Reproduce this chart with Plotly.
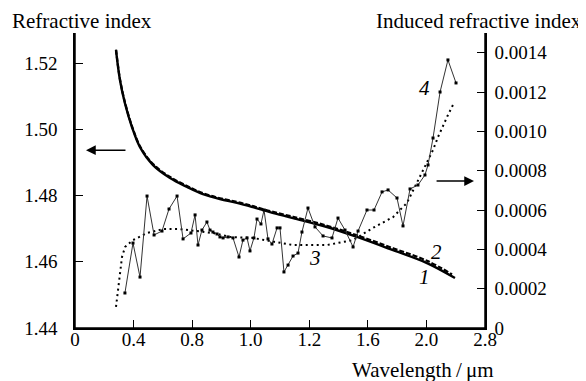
import plotly.graph_objects as go

# ---- data ----
# x axis drawn linearly, tick positions every 0.4 with the printed labels
x_tickvals = [0, 0.4, 0.8, 1.2, 1.6, 2.0, 2.4, 2.8]
x_ticktext = ["0", "0.4", "0.8", "1.0", "1.2", "1.6", "2.0", "2.8"]

y_left_ticks = [1.44, 1.46, 1.48, 1.50, 1.52]
y_left_text = ["1.44", "1.46", "1.48", "1.50", "1.52"]
y_right_ticks = [0, 0.0002, 0.0004, 0.0006, 0.0008, 0.0010, 0.0012, 0.0014]
y_right_text = ["0", "0.0002", "0.0004", "0.0006", "0.0008", "0.0010", "0.0012", "0.0014"]

# curve 1 (solid) refractive index
c1_x = [0.28, 0.307, 0.341, 0.389, 0.444, 0.533, 0.649, 0.765, 0.874, 0.990,
        1.106, 1.216, 1.332, 1.489, 1.721, 1.926, 2.172, 2.404, 2.595]
c1_y = [1.5239, 1.5149, 1.5079, 1.5007, 1.4946, 1.4892, 1.4853, 1.4826, 1.4804, 1.4789,
        1.4778, 1.4765, 1.4750, 1.4732, 1.4705, 1.4675, 1.4635, 1.4596, 1.4551]

# curve 2 (dashed) refractive index
c2_x = [0.28, 0.307, 0.341, 0.389, 0.444, 0.533, 0.649, 0.765, 0.874, 0.990,
        1.106, 1.216, 1.332, 1.489, 1.721, 1.926, 2.172, 2.404, 2.575]
c2_y = [1.5241, 1.5152, 1.5082, 1.5010, 1.4949, 1.4895, 1.4856, 1.4829, 1.4807, 1.4792,
        1.4781, 1.4768, 1.4753, 1.4736, 1.4709, 1.4680, 1.4641, 1.4603, 1.4562]

# curve 3 (dotted) induced refractive index
c3_x = [0.28, 0.300, 0.321, 0.342, 0.396, 0.492, 0.601, 0.717, 0.833, 0.942,
        1.058, 1.216, 1.332, 1.489, 1.721, 1.899, 2.035, 2.172, 2.267, 2.377,
        2.411, 2.445, 2.479, 2.513, 2.547, 2.581]
c3_y = [0.000107, 0.000229, 0.000361, 0.000412, 0.000447, 0.000483, 0.000503, 0.000503,
        0.000493, 0.000483, 0.000463, 0.000458, 0.000442, 0.000422, 0.000422, 0.000447,
        0.000509, 0.000564, 0.000636, 0.000798, 0.000854, 0.000905, 0.000971, 0.001032,
        0.001083, 0.001134]

# curve 4 (measured, noisy) induced refractive index
c4_x = [0.341, 0.396, 0.444, 0.492, 0.540, 0.594, 0.642, 0.697, 0.738, 0.792,
        0.820, 0.840, 0.867, 0.901, 0.922, 0.942, 0.970, 0.990, 1.011, 1.045,
        1.079, 1.120, 1.147, 1.175, 1.195, 1.222, 1.243, 1.270, 1.291, 1.318,
        1.345, 1.380, 1.400, 1.427, 1.455, 1.489, 1.523, 1.550, 1.591, 1.639,
        1.694, 1.755, 1.796, 1.844, 1.899, 1.933, 1.994, 2.042, 2.097, 2.138,
        2.199, 2.240, 2.288, 2.342, 2.390, 2.411, 2.445, 2.493, 2.547, 2.602]
c4_y = [0.000178, 0.000432, 0.000259, 0.000671, 0.000473, 0.000493, 0.000605, 0.000671,
        0.000453, 0.000483, 0.000575, 0.000422, 0.000498, 0.000539, 0.000498, 0.000488,
        0.000478, 0.000463, 0.000458, 0.000463, 0.000458, 0.000361, 0.000447, 0.000458,
        0.000392, 0.000458, 0.000554, 0.000529, 0.000600, 0.000453, 0.000427, 0.000509,
        0.000509, 0.000285, 0.000320, 0.000366, 0.000381, 0.000488, 0.000610, 0.000514,
        0.000468, 0.000458, 0.000559, 0.000498, 0.000412, 0.000493, 0.000600, 0.000600,
        0.000692, 0.000702, 0.000661, 0.000519, 0.000707, 0.000727, 0.000778, 0.000829,
        0.000966, 0.001200, 0.001363, 0.001246]

FONT = "Liberation Serif"
TICK_SIZE = 19
TITLE_SIZE = 21

fig = go.Figure()
fig.add_trace(go.Scatter(x=c3_x, y=c3_y, yaxis="y2", mode="lines",
                         line=dict(color="black", width=2, dash="2px,3.5px"),
                         showlegend=False))
fig.add_trace(go.Scatter(x=c4_x, y=c4_y, yaxis="y2", mode="lines+markers",
                         line=dict(color="#333", width=1),
                         marker=dict(symbol="square", size=3, color="black"),
                         showlegend=False))
fig.add_trace(go.Scatter(x=c2_x, y=c2_y, mode="lines", line_shape="spline",
                         line=dict(color="black", width=2.2, dash="5px,2px"),
                         showlegend=False))
fig.add_trace(go.Scatter(x=c1_x, y=c1_y, mode="lines", line_shape="spline",
                         line=dict(color="black", width=2.4),
                         showlegend=False))

axis_common = dict(showgrid=False, zeroline=False, showline=True, linecolor="black",
                   linewidth=1.5, ticks="inside", ticklen=8, tickwidth=1.2,
                   tickcolor="black",
                   tickfont=dict(family=FONT, size=TICK_SIZE, color="black"))

# the page places the figure 8 px from the top-left corner
fig.update_layout(
    width=578, height=373,
    margin=dict(l=67, r=101, t=25, b=53),
    paper_bgcolor="white", plot_bgcolor="white",
    font=dict(family=FONT, color="black"),
    xaxis=dict(range=[0, 2.8], tickvals=x_tickvals, ticktext=x_ticktext,
               ticklabelstandoff=-7, **axis_common),
    yaxis=dict(range=[1.44, 1.5291], tickvals=y_left_ticks, ticktext=y_left_text,
               ticklabelstandoff=12, **axis_common),
    yaxis2=dict(range=[0, 0.0015], overlaying="y", side="right",
                tickvals=y_right_ticks, ticktext=y_right_text,
                ticklabelstandoff=4, **axis_common),
)

# axis frame lines (left, bottom, right)
for x0, y0, x1, y1 in [(0, 0, 0, 1), (0, 0, 1, 0), (1, 0, 1, 1)]:
    fig.add_shape(type="line", xref="paper", yref="paper", x0=x0, y0=y0, x1=x1, y1=y1,
                  line=dict(color="black", width=1.5), layer="above")

# axis titles
fig.add_annotation(text="Refractive index", xref="paper", yref="paper",
                   x=0.017, y=1.0396, xanchor="center", yanchor="middle",
                   showarrow=False, font=dict(family=FONT, size=TITLE_SIZE))
fig.add_annotation(text="Induced refractive index", xref="paper", yref="paper",
                   x=0.985, y=1.0396, xanchor="center", yanchor="middle",
                   showarrow=False, font=dict(family=FONT, size=TITLE_SIZE))
fig.add_annotation(text="Wavelength\u2009/\u2009\u03bcm", xref="paper", yref="paper",
                   x=1.026, y=-0.142, xanchor="right", yanchor="middle",
                   showarrow=False, font=dict(family=FONT, size=TITLE_SIZE))

# curve labels
for txt, lx, ly in [("1", 2.39, 1.4554), ("2", 2.472, 1.4629),
                    ("3", 1.639, 1.4611), ("4", 2.39, 1.5125)]:
    fig.add_annotation(text="<i>%s</i>" % txt, x=lx, y=ly, xref="x", yref="y",
                       showarrow=False, font=dict(family=FONT, size=TITLE_SIZE))

# arrows indicating the axis each curve belongs to
fig.add_annotation(x=0.075, y=1.4937, ax=0.355, ay=1.4937, xref="x", yref="y",
                   axref="x", ayref="y", text="", showarrow=True, arrowhead=2,
                   arrowsize=1.3, arrowwidth=1.5, arrowcolor="black")
fig.add_annotation(x=2.725, y=1.4844, ax=2.459, ay=1.4844, xref="x", yref="y",
                   axref="x", ayref="y", text="", showarrow=True, arrowhead=2,
                   arrowsize=1.3, arrowwidth=1.5, arrowcolor="black")

fig.write_html("out.html")
